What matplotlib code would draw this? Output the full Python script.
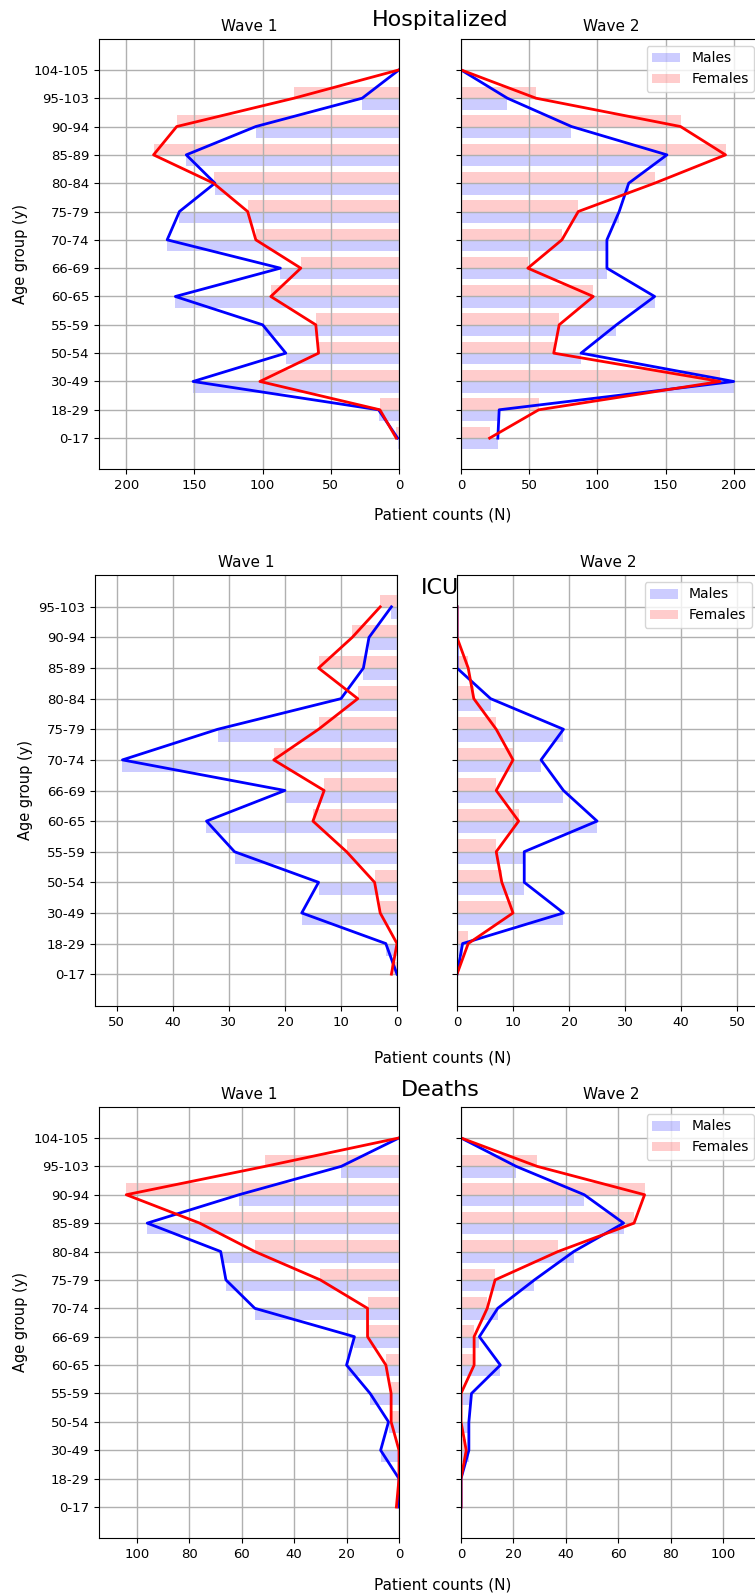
import numpy as np
import matplotlib
matplotlib.use("Agg")
import matplotlib.pyplot as plt

# age groups (bottom to top)
ages = ['0-17', '18-29', '30-49', '50-54', '55-59', '60-65', '66-69',
        '70-74', '75-79', '80-84', '85-89', '90-94', '95-103', '104-105']
ages_icu = ages[:-1]

# hospitalized
hosp_w1_m = [1, 15, 151, 83, 100, 164, 87, 170, 161, 135, 156, 105, 27, 0]
hosp_w1_f = [2, 14, 102, 59, 61, 94, 72, 105, 111, 136, 180, 163, 77, 0]
hosp_w2_m = [27, 28, 200, 88, 114, 142, 107, 107, 116, 123, 151, 81, 34, 0]
hosp_w2_f = [21, 57, 190, 68, 72, 97, 49, 74, 86, 142, 194, 161, 55, 0]

# ICU
icu_w1_m = [0, 2, 17, 14, 29, 34, 20, 49, 32, 10, 6, 5, 1]
icu_w1_f = [1, 0, 3, 4, 9, 15, 13, 22, 14, 7, 14, 8, 3]
icu_w2_m = [0, 1, 19, 12, 12, 25, 19, 15, 19, 6, 0, 0, 0]
icu_w2_f = [0, 2, 10, 8, 7, 11, 7, 10, 7, 3, 2, 0, 0]

# deaths
death_w1_m = [0, 0, 7, 4, 11, 20, 17, 55, 66, 68, 96, 61, 22, 0]
death_w1_f = [1, 0, 0, 3, 3, 5, 12, 12, 30, 55, 76, 104, 51, 0]
death_w2_m = [0, 0, 3, 3, 4, 15, 7, 14, 28, 43, 62, 47, 21, 0]
death_w2_f = [0, 0, 2, 0, 0, 5, 5, 10, 13, 37, 66, 70, 29, 0]

W, H = 755, 1595
fig = plt.figure(figsize=(W / 100, H / 100), dpi=100)


def px_axes(x0, x1, top, bottom):
    return fig.add_axes([x0 / W, 1 - bottom / H, (x1 - x0) / W, (bottom - top) / H])


def pyramid(ax, labels, m, f, xmax, left):
    y = np.arange(len(labels))
    ax.barh(y - 0.2, m, 0.4, color='blue', alpha=0.2, label='Males')
    ax.barh(y + 0.2, f, 0.4, color='red', alpha=0.2, label='Females')
    ax.plot(m, y, 'b-', lw=2)
    ax.plot(f, y, 'r-', lw=2)
    ax.set_yticks(y)
    if left:
        ax.set_xlim(xmax, 0)
        ax.set_yticklabels(labels, fontsize=9.5)
        ax.set_ylabel('Age group (y)', fontsize=10.5)
        ax.set_title('Wave 1', fontsize=11)
    else:
        ax.set_xlim(0, xmax)
        ax.set_yticklabels([])
        ax.set_title('Wave 2', fontsize=11)
        ax.legend(loc='upper right', fontsize=10)
    ax.tick_params(axis='x', labelsize=9.5)
    ax.grid(True, color='#b0b0b0', lw=1)


rows = [
    ('Hospitalized', ages, hosp_w1_m, hosp_w1_f, hosp_w2_m, hosp_w2_f,
     (99, 461), 39, 469, 20, 515),
    ('ICU', ages_icu, icu_w1_m, icu_w1_f, icu_w2_m, icu_w2_f,
     (95, 457), 575, 1006, 588, 1058),
    ('Deaths', ages, death_w1_m, death_w1_f, death_w2_m, death_w2_f,
     (99, 461), 1107, 1538, 1090, 1585),
]

for name, labels, m1, f1, m2, f2, (xl, xr), top, bot, ty, ly in rows:
    xmax = max(max(m1), max(f1), max(m2), max(f2)) * 1.1
    width = 300 if xl == 99 else 302
    ax1 = px_axes(xl, xl + width, top, bot)
    ax2 = px_axes(xr, xr + width, top, bot)
    pyramid(ax1, labels, m1, f1, xmax, True)
    pyramid(ax2, labels, m2, f2, xmax, False)
    fig.text(440 / W, 1 - ty / H, name, fontsize=16, ha='center', va='center')
    fig.text(443 / W, 1 - ly / H, 'Patient counts (N)', fontsize=11, ha='center', va='center')

fig.savefig('out.png', dpi=100)
